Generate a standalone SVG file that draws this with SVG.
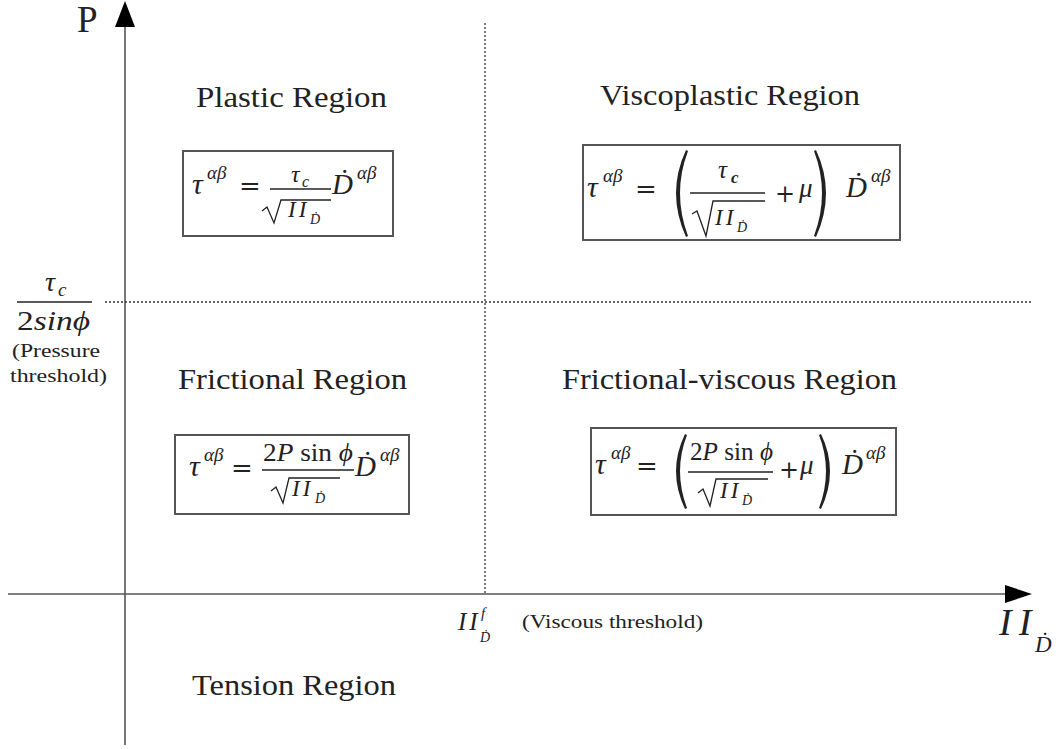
<svg xmlns="http://www.w3.org/2000/svg" width="1059" height="749" viewBox="0 0 1059 749">
<style>
text{font-family:"Liberation Serif","DejaVu Serif",serif;fill:#222}
.t{font-size:29px}
.mi{font-style:italic}
.mo{font-family:"DejaVu Serif","Liberation Serif",serif}
.sup{font-size:19px;font-style:italic}
.den{font-size:23px;font-style:italic}
.box{fill:#fff;stroke:#555;stroke-width:2}
.ax{stroke:#555;stroke-width:1.6;fill:none}
.dot{stroke:#333;stroke-width:1.3;stroke-dasharray:2 2;fill:none}
.bar{stroke:#222;stroke-width:1.3}
.rad{stroke:#222;stroke-width:1.3;fill:none}
.par{fill:#222}
</style>
<rect width="1059" height="749" fill="#fff"/>
<g id="connectors">
<line class="ax" x1="125" y1="745" x2="125" y2="20"/>
<polygon points="125,1 115,27 135,27" fill="#000"/>
<line class="ax" x1="8" y1="594" x2="1012" y2="594"/>
<polygon points="1032,594 1005,585 1005,603" fill="#000"/>
<line class="dot" x1="105" y1="302" x2="1032" y2="302"/>
<line class="dot" x1="485" y1="23" x2="485" y2="594"/>
</g>
<g id="axis-p"><text x="77" y="32" font-size="37">P</text></g>
<g id="axis-ii">
<text class="mi" x="999" y="635" font-size="38">I<tspan dx="7">I</tspan></text>
<text class="mi" x="1035" y="652" font-size="23">Ḋ</text>
</g>
<g id="pressure-threshold">
<text class="mi" x="45" y="291" font-size="28">τ</text>
<text class="mi" x="58" y="296" font-size="19">c</text>
<line class="bar" x1="17" y1="302" x2="92" y2="302"/>
<text x="17" y="330" font-size="28" textLength="73" lengthAdjust="spacingAndGlyphs"><tspan>2</tspan><tspan class="mi">sinϕ</tspan></text>
<text x="12" y="357" font-size="19" textLength="88" lengthAdjust="spacingAndGlyphs">(Pressure</text>
<text x="10" y="382" font-size="19" textLength="97" lengthAdjust="spacingAndGlyphs">threshold)</text>
</g>
<g id="viscous-threshold">
<text class="mi" x="458" y="630" font-size="25">I<tspan dx="3">I</tspan></text>
<text class="mi" x="481" y="618" font-size="15">f</text>
<text class="mi" x="480" y="642" font-size="14">Ḋ</text>
<text x="522" y="628" font-size="19" textLength="181" lengthAdjust="spacingAndGlyphs">(Viscous threshold)</text>
</g>
<g id="plastic">
<text class="t" x="196" y="107" textLength="191" lengthAdjust="spacingAndGlyphs">Plastic Region</text>
<rect class="box" x="183" y="151" width="210" height="85"/>
<text class="mi" x="192" y="194" font-size="30">τ</text>
<text class="sup" x="207" y="179">αβ</text>
<text class="mo" x="239" y="195" font-size="26">=</text>
<text class="mi" x="291" y="182" font-size="24">τ</text>
<text class="mi" x="302" y="187" font-size="16">c</text>
<line class="bar" x1="270" y1="189" x2="331" y2="189"/>
<path class="rad" d="M262,211 L267,207 L274,223 L281,200 L331,200"/>
<text class="den" x="288" y="217">I<tspan dx="3">I</tspan></text>
<text class="mi" x="310" y="224" font-size="14">Ḋ</text>
<text class="mi" x="332" y="194" font-size="29">Ḋ</text>
<text class="sup" x="357" y="179">αβ</text>
</g>
<g id="viscoplastic">
<text class="t" x="600" y="105" textLength="260" lengthAdjust="spacingAndGlyphs">Viscoplastic Region</text>
<rect class="box" x="583" y="145" width="317" height="95"/>
<text class="mi" x="587" y="197" font-size="30">τ</text>
<text class="sup" x="603" y="182">αβ</text>
<text class="mo" x="635" y="198" font-size="26">=</text>
<path class="par" d="M686,150 Q666,193 686,237 L688,236 Q672,193 688,151 Z"/>
<text class="mi" x="718" y="178" font-size="25">τ</text>
<text class="mi" x="731" y="183" font-size="17" font-weight="bold">c</text>
<line class="bar" x1="690" y1="193" x2="765" y2="193"/>
<path class="rad" d="M692,214 L697,211 L706,236 L713,201 L765,201"/>
<text class="den" x="715" y="225">I<tspan dx="3">I</tspan></text>
<text class="mi" x="737" y="232" font-size="14">Ḋ</text>
<text class="mo" x="775" y="202" font-size="24">+</text>
<text class="mi" x="799" y="197" font-size="27">μ</text>
<path class="par" d="M816,150 Q836,193 816,237 L814,236 Q830,193 814,151 Z"/>
<text class="mi" x="846" y="197" font-size="29">Ḋ</text>
<text class="sup" x="871" y="182">αβ</text>
</g>
<g id="frictional">
<text class="t" x="178" y="389" textLength="229" lengthAdjust="spacingAndGlyphs">Frictional Region</text>
<rect class="box" x="175" y="435" width="234" height="79"/>
<text class="mi" x="189" y="476" font-size="30">τ</text>
<text class="sup" x="204" y="461">αβ</text>
<text class="mo" x="231" y="477" font-size="26">=</text>
<text x="263" y="461" font-size="25" textLength="90" lengthAdjust="spacingAndGlyphs"><tspan>2</tspan><tspan class="mi">P</tspan><tspan> sin </tspan><tspan class="mi">ϕ</tspan></text>
<line class="bar" x1="262" y1="470" x2="354" y2="470"/>
<path class="rad" d="M271,491 L276,487 L283,503 L289,478 L340,478"/>
<text class="den" x="292" y="496">I<tspan dx="3">I</tspan></text>
<text class="mi" x="315" y="503" font-size="14">Ḋ</text>
<text class="mi" x="355" y="476" font-size="29">Ḋ</text>
<text class="sup" x="380" y="461">αβ</text>
</g>
<g id="frictional-viscous">
<text class="t" x="562" y="389" textLength="335" lengthAdjust="spacingAndGlyphs">Frictional-viscous Region</text>
<rect class="box" x="591" y="428" width="305" height="87"/>
<text class="mi" x="595" y="474" font-size="30">τ</text>
<text class="sup" x="611" y="459">αβ</text>
<text class="mo" x="636" y="475" font-size="26">=</text>
<path class="par" d="M685,434 Q667,471 685,509 L687,508 Q673,471 687,435 Z"/>
<text x="690" y="460" font-size="25" textLength="83" lengthAdjust="spacingAndGlyphs"><tspan>2</tspan><tspan class="mi">P</tspan><tspan> sin </tspan><tspan class="mi">ϕ</tspan></text>
<line class="bar" x1="688" y1="472" x2="773" y2="472"/>
<path class="rad" d="M698,493 L703,489 L710,506 L716,479 L768,479"/>
<text class="den" x="720" y="498">I<tspan dx="3">I</tspan></text>
<text class="mi" x="742" y="505" font-size="14">Ḋ</text>
<text class="mo" x="779" y="478" font-size="24">+</text>
<text class="mi" x="800" y="474" font-size="27">μ</text>
<path class="par" d="M821,434 Q839,471 821,509 L819,508 Q833,471 819,435 Z"/>
<text class="mi" x="842" y="474" font-size="29">Ḋ</text>
<text class="sup" x="866" y="459">αβ</text>
</g>
<g id="tension">
<text class="t" x="192" y="695" textLength="204" lengthAdjust="spacingAndGlyphs">Tension Region</text>
</g>
</svg>
